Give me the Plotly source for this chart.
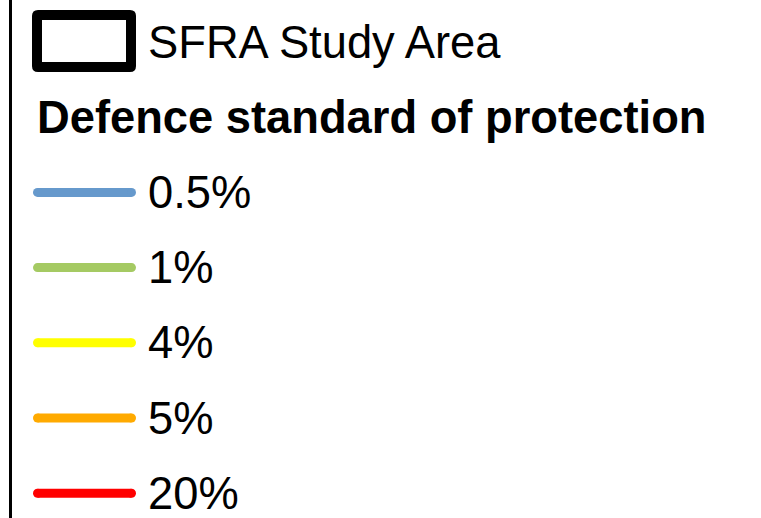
import plotly.graph_objects as go

# ---- data ----
boundary_label = "SFRA Study Area"
legend_title = "Defence standard of protection"
categories = ["0.5%", "1%", "4%", "5%", "20%"]
colors = ["#6699CC", "#A5CA63", "#FFFF00", "#FFAA00", "#FF0000"]

W, H = 761, 518
ROW0 = 42.0      # pixel centre of first row
STEP = 75.2      # pixel spacing between rows
y_top = -ROW0 / STEP
y_bot = (H - ROW0) / STEP

FONT = "Liberation Sans, Arial, sans-serif"
FS = 45.3
fig = go.Figure()

# legend line samples (rows 2..6)
for i, (cat, col) in enumerate(zip(categories, colors)):
    row = i + 2
    fig.add_trace(go.Scatter(
        x=[37.5, 131.5], y=[row, row], mode="lines+markers",
        line=dict(color=col, width=9),
        marker=dict(color=col, size=9, line=dict(width=0)),
        hoverinfo="skip"))
    fig.add_annotation(x=146, y=row, text=cat, showarrow=False,
                       xanchor="left", yanchor="middle",
                       font=dict(family=FONT, size=FS, color="black"))

# boundary sample (row 0): rounded black rectangle with white interior
def py(p):
    return (p - ROW0) / STEP

def rounded_rect(x0, x1, p0, p1, r):
    a, b = py(p0), py(p1)
    ar, br = py(p0 + r), py(p1 - r)
    return (f"M {x0+r},{a} L {x1-r},{a} Q {x1},{a} {x1},{ar} "
            f"L {x1},{br} Q {x1},{b} {x1-r},{b} L {x0+r},{b} "
            f"Q {x0},{b} {x0},{br} L {x0},{ar} Q {x0},{a} {x0+r},{a} Z")

fig.add_shape(type="path", path=rounded_rect(32, 136, 10, 72, 6),
              line=dict(color="black", width=0), fillcolor="black")
fig.add_shape(type="rect", x0=42, x1=126, y0=py(20), y1=py(62),
              line=dict(color="white", width=0), fillcolor="white")
fig.add_annotation(x=146, y=0, text=boundary_label, showarrow=False,
                   xanchor="left", yanchor="middle",
                   font=dict(family=FONT, size=FS, color="black"))

# title (row 1)
fig.add_annotation(x=35, y=1, text="<b>" + legend_title + "</b>", showarrow=False,
                   xanchor="left", yanchor="middle",
                   font=dict(family=FONT, size=FS, color="black"))

# left border line
fig.add_shape(type="line", x0=10.5, x1=10.5, y0=y_top, y1=y_bot,
              line=dict(color="black", width=3))

fig.update_layout(
    width=W, height=H, margin=dict(l=0, r=0, t=0, b=0),
    paper_bgcolor="white", plot_bgcolor="white", showlegend=False,
    xaxis=dict(range=[0, W], visible=False, fixedrange=True),
    yaxis=dict(range=[y_bot, y_top], visible=False, fixedrange=True),
)
fig.write_html("out.html", config={"displayModeBar": False},
               post_script="document.body.style.margin='0';document.body.style.overflow='hidden';")
